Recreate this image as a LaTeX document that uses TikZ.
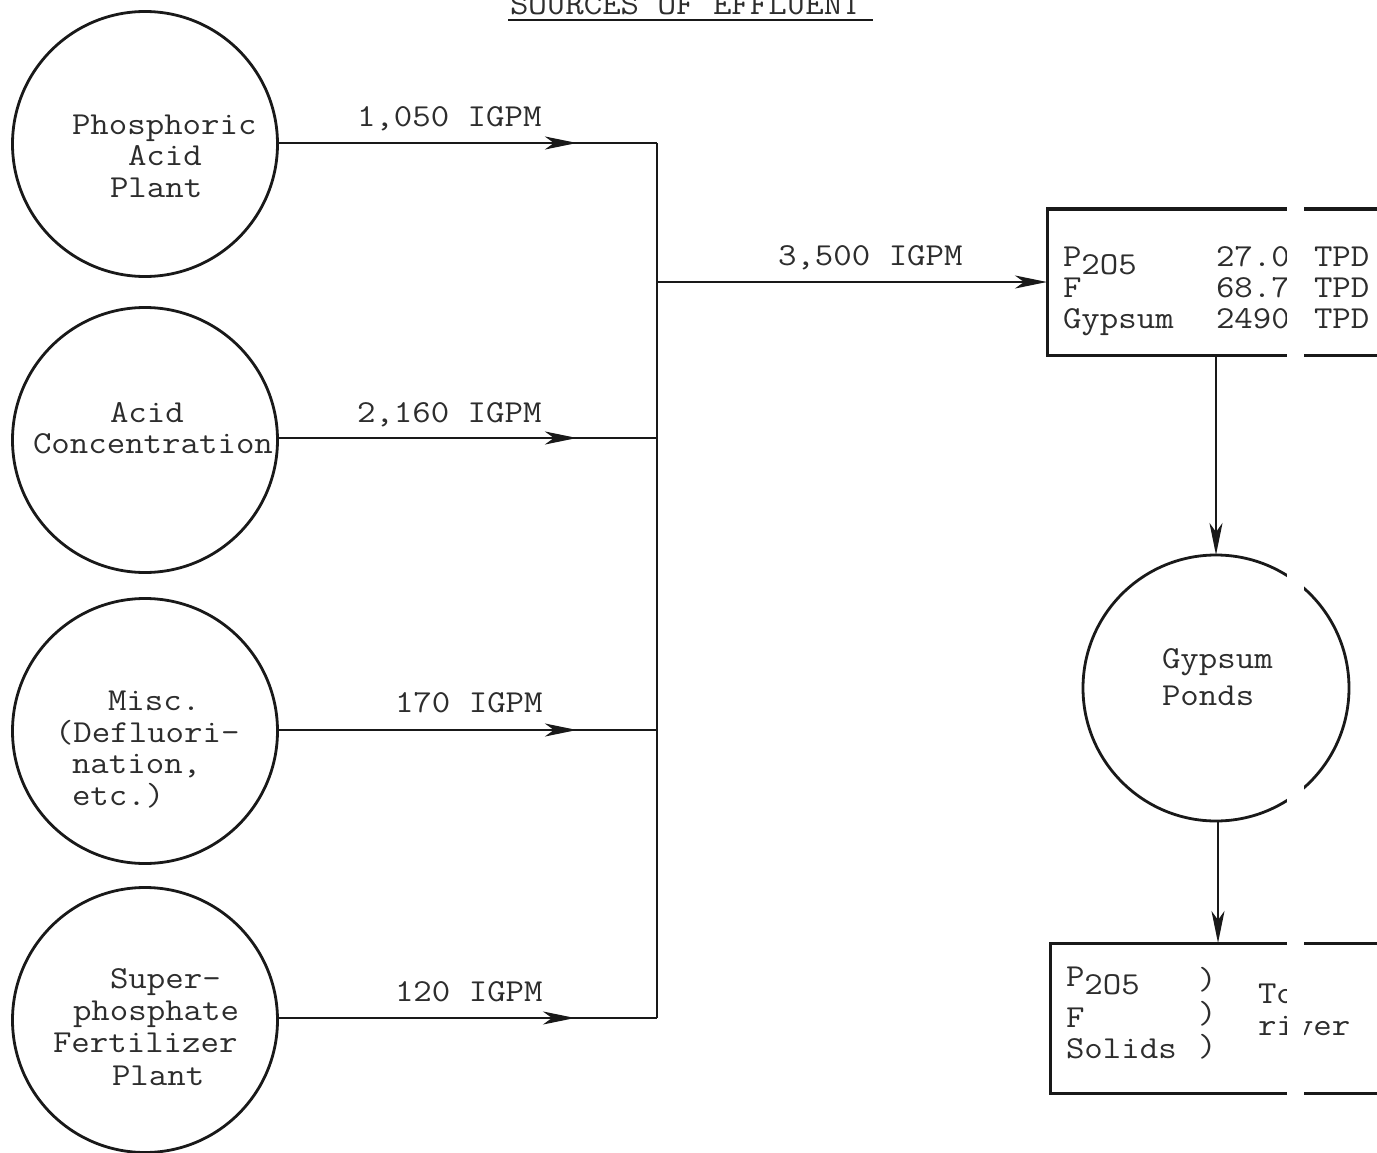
\documentclass[tikz,border=0pt]{standalone}
\usepackage{graphicx}
\usetikzlibrary{arrows.meta,decorations.markings}
\definecolor{ink}{RGB}{25,25,25}
\definecolor{tink}{RGB}{45,45,45}
\newcommand{\twr}[1]{\scalebox{1.12}[1]{#1}}
\tikzset{
  tw/.style={anchor=base west, inner sep=0pt, outer sep=0pt, text=tink,
    font=\fontsize{32}{34}\selectfont\ttfamily},
  circ/.style={circle, draw=ink, line width=2.8pt, minimum size=265pt, inner sep=0pt, outer sep=0pt},
  flowbox/.style={rectangle, draw=ink, line width=3pt, inner sep=0pt, outer sep=0pt, anchor=north west},
  conn/.style={draw=ink, line width=2.4pt},
  tip/.tip={Stealth[length=32pt,width=13pt,inset=9pt]},
  midarrow/.style={postaction={decorate}, decoration={markings, mark=at position #1 with {\arrow[ink]{tip}}}}
}
\begin{document}
\begin{tikzpicture}[x=1pt,y=-1pt]
\useasboundingbox (0,0) rectangle (1377,1153);
\fill[white] (0,0) rectangle (1377,1153);

% title
\node[tw] (title) at (510,15) {\twr{SOURCES OF EFFLUENT}};
\draw[ink, line width=2.8pt] (508,20) -- (873,20);

% source circles
\node[circ] (c1) at (145,144) {};
\node[circ] (c2) at (145,440) {};
\node[circ] (c3) at (145,731) {};
\node[circ] (c4) at (145,1020) {};

\node[tw] (c1a) at (72,135) {\twr{Phosphoric}};
\node[tw] (c1b) at (128,166) {\twr{Acid}};
\node[tw] (c1c) at (110,197) {\twr{Plant}};

\node[tw] (c2a) at (110,422) {\twr{Acid}};
\node[tw] (c2b) at (33,453) {\twr{Concentration}};

\node[tw] (c3a) at (108,710) {\twr{Misc.}};
\node[tw] (c3b) at (55,742) {\twr{(Defluori-}};
\node[tw] (c3c) at (72,773) {\twr{nation,}};
\node[tw] (c3d) at (72,805) {\twr{etc.)}};

\node[tw] (c4a) at (110,988) {\twr{Super-}};
\node[tw] (c4b) at (73,1020) {\twr{phosphate}};
\node[tw] (c4c) at (53,1052) {\twr{Fertilizer}};
\node[tw] (c4d) at (112,1085) {\twr{Plant}};

% junctions
\coordinate (j1) at (657,143);
\coordinate (j2) at (657,438);
\coordinate (j3) at (657,730);
\coordinate (j4) at (657,1018);
\coordinate (jm) at (657,282);

\draw[conn, midarrow=0.789] (c1.east |- j1) -- (j1);
\draw[conn, midarrow=0.789] (c2.east |- j2) -- (j2);
\draw[conn, midarrow=0.789] (c3.east |- j3) -- (j3);
\draw[conn, midarrow=0.784] (c4.east |- j4) -- (j4);
\draw[conn] (j1) -- (j4);

\node[tw] (l1) at (357,127) {\twr{1,050 IGPM}};
\node[tw] (l2) at (357,422) {\twr{2,160 IGPM}};
\node[tw] (l3) at (395,712) {\twr{170 IGPM}};
\node[tw] (l4) at (395,1001) {\twr{120 IGPM}};
\node[tw] (lm) at (778,265) {\twr{3,500 IGPM}};

% box 1
\node[flowbox, minimum width=420pt, minimum height=146pt] (b1) at (1047,209) {};
\draw[conn, -{tip}] (jm) -- (jm -| b1.west);

\node[tw] (b1a) at (1063,266) {\twr{P\raisebox{-8pt}{2O5}}};
\node[tw] (b1b) at (1063,297) {\twr{F}};
\node[tw] (b1c) at (1063,328) {\twr{Gypsum}};
\node[tw] (b1d) at (1216,266) {\twr{27.0}};
\node[tw] (b1e) at (1216,297) {\twr{68.7}};
\node[tw] (b1f) at (1216,328) {\twr{2490}};
\node[tw] (b1g) at (1314,266) {\twr{TPD}};
\node[tw] (b1h) at (1314,297) {\twr{TPD}};
\node[tw] (b1i) at (1314,328) {\twr{TPD}};

% gypsum ponds
\node[circ, minimum size=266pt] (gp) at (1216,688) {};
\node[tw] (gpa) at (1162,668) {\twr{Gypsum}};
\node[tw] (gpb) at (1162,705) {\twr{Ponds}};
\draw[conn, -{tip}] (gp.north |- b1.south) -- (gp.north);

% box 2
\node[flowbox, minimum width=420pt, minimum height=150pt] (b2) at (1050,943) {};
\draw[conn, -{tip}] ([xshift=2pt]gp.south) -- ([xshift=2pt]gp.south |- b2.north);

\node[tw] (b2a) at (1066,986) {\twr{P\raisebox{-8pt}{2O5}}};
\node[tw] (b2b) at (1066,1027) {\twr{F}};
\node[tw] (b2c) at (1066,1058) {\twr{Solids}};
\node[tw] (b2d) at (1198,989) {\twr{)}};
\node[tw] (b2e) at (1198,1023) {\twr{)}};
\node[tw] (b2f) at (1198,1056) {\twr{)}};
\node[tw] (b2g) at (1258,1003) {\twr{To}};
\node[tw] (b2h) at (1258,1035) {\twr{river}};

% scan gap
\fill[white] (1287,200) rectangle (1304,1100);
\end{tikzpicture}
\end{document}
